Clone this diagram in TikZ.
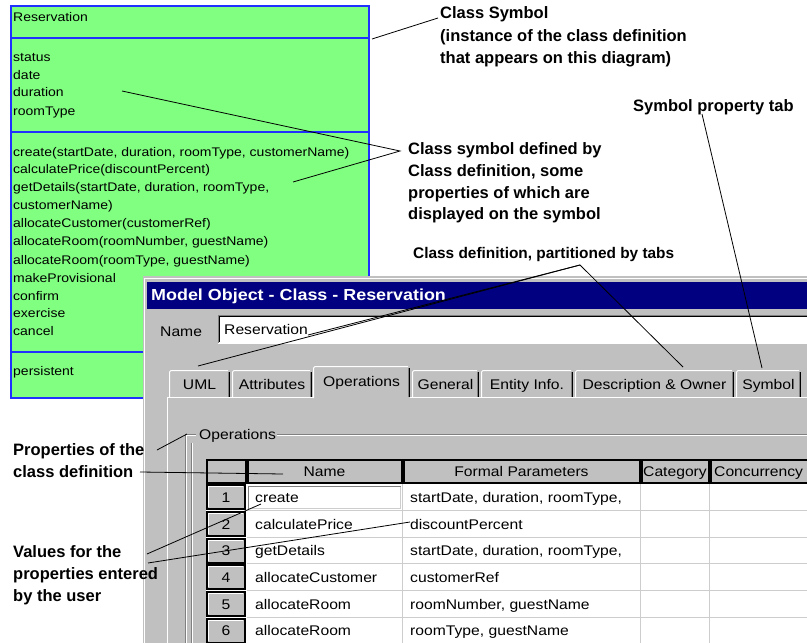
\documentclass[tikz,border=0pt]{standalone}
\usepackage{fontspec}
\setmainfont{Liberation Sans}
\newfontfamily\uifont[FakeStretch=1.12]{Liberation Sans}
\definecolor{symgreen}{RGB}{128,255,128}
\definecolor{symblue}{RGB}{32,48,255}
\definecolor{winnavy}{RGB}{0,0,128}
\definecolor{wingray}{RGB}{192,192,192}
\definecolor{windark}{RGB}{128,128,128}
\definecolor{gridgray}{RGB}{205,205,205}
\begin{document}
\begin{tikzpicture}[x=1pt,y=-1pt,
  gtxt/.style={anchor=west,inner sep=0pt,text height=9pt,text depth=0pt,font=\uifont\fontsize{12.5}{14}\selectfont},
  utxt/.style={inner sep=0pt,text height=10pt,text depth=0pt,font=\uifont\fontsize{14}{16}\selectfont},
  ann/.style={anchor=west,inner sep=0pt,text height=11.8pt,text depth=0pt,font=\bfseries\fontsize{16.5}{19}\selectfont},
  lead/.style={line width=0.8pt,black},
  symline/.style={symblue,line width=1.3pt},
  hdrcell/.style={draw=black,line width=2pt,fill=wingray},
]
\useasboundingbox (0,0) rectangle (807,643);
\fill[white] (0,0) rectangle (807,643);
\begin{scope}
\clip (0,0) rectangle (807,643);
% ---------------- class symbol ----------------
\fill[symgreen] (11,6) rectangle (369,398);
\draw[symline] (11,6) rectangle (369,398);
\draw[symline] (11,38) -- (369,38);
\draw[symline] (11,132) -- (369,132);
\draw[symline] (11,352) -- (369,352);
\node[gtxt] (sname) at (13,16.7) {Reservation};
\node[gtxt] (sa1) at (13,57) {status};
\node[gtxt] (sa2) at (13,74.5) {date};
\node[gtxt] (sa3) at (13,92) {duration};
\node[gtxt] (sa4) at (13,110.5) {roomType};
\node[gtxt] (so1) at (13,151.5) {create(startDate, duration, roomType, customerName)};
\node[gtxt] (so2) at (13,169) {calculatePrice(discountPercent)};
\node[gtxt] (so3) at (13,187) {getDetails(startDate, duration, roomType,};
\node[gtxt] (so4) at (13,205) {customerName)};
\node[gtxt] (so5) at (13,223) {allocateCustomer(customerRef)};
\node[gtxt] (so6) at (13,241) {allocateRoom(roomNumber, guestName)};
\node[gtxt] (so7) at (13,259.5) {allocateRoom(roomType, guestName)};
\node[gtxt] (so8) at (13,277.5) {makeProvisional};
\node[gtxt] (so9) at (13,295.5) {confirm};
\node[gtxt] (so10) at (13,313) {exercise};
\node[gtxt] (so11) at (13,331) {cancel};
\node[gtxt] (sp1) at (13,371) {persistent};
% ---------------- dialog window ----------------
\fill[wingray] (143,276) rectangle (812,650);
\draw[white,line width=1pt] (144.5,650) -- (144.5,278.5) -- (812,278.5);
\fill[winnavy] (147,282) rectangle (812,309);
\node[anchor=west,inner sep=0pt,text height=11.5pt,text depth=0pt,text=white,font=\uifont\bfseries\fontsize{16}{19}\selectfont] (title) at (151,294.5) {Model Object - Class - Reservation};
\node[utxt,anchor=west] (namelbl) at (160,331.5) {Name};
\fill[white] (219,316) rectangle (812,343);
\draw[windark,line width=1pt] (218.5,343) -- (218.5,315.5) -- (812,315.5);
\draw[black,line width=1pt] (219.5,342) -- (219.5,316.5) -- (812,316.5);
\draw[white,line width=1pt] (218,343.5) -- (812,343.5);
\node[utxt,anchor=west] (namefield) at (224,329.5) {Reservation};
% tabs
\foreach \l/\r/\t/\n in {169/230/UML/tabuml, 232/312/Attributes/tabatt, 412/479/General/tabgen, 481/573/Entity Info./tabent, 575/734/Description \& Owner/tabdesc, 736/801/Symbol/tabsym}{
  \fill[wingray] (\l,370) rectangle (\r,397);
  \draw[white,line width=1pt] ({\l+0.5},397) -- ({\l+0.5},372) -- ({\l+2},370.5) -- ({\r-2},370.5);
  \draw[black,line width=1pt] ({\r-0.5},372) -- ({\r-0.5},397);
  \draw[windark,line width=1pt] ({\r-1.5},372) -- ({\r-1.5},397);
  \node[utxt] (\n) at ({(\l+\r)/2},384.5) {\t};
}
% panel
\draw[white,line width=1pt] (167.5,650) -- (167.5,397.5) -- (313,397.5);
\draw[white,line width=1pt] (410,397.5) -- (812,397.5);
% selected tab
\fill[wingray] (313,366) rectangle (410,399);
\draw[white,line width=1pt] (313.5,398) -- (313.5,368) -- (315,366.5) -- (408,366.5);
\draw[black,line width=1pt] (409.5,368) -- (409.5,397);
\draw[windark,line width=1pt] (408.5,368) -- (408.5,397);
\node[utxt] (tabops) at (361.5,381) {Operations};
% group box
\draw[windark,line width=1pt] (185.5,650) -- (185.5,434.5) -- (196,434.5);
\draw[white,line width=1pt] (186.5,650) -- (186.5,435.5) -- (196,435.5);
\draw[windark,line width=1pt] (277,434.5) -- (812,434.5);
\draw[white,line width=1pt] (277,435.5) -- (812,435.5);
\draw[windark,line width=1pt] (191.5,650) -- (191.5,443);
\draw[white,line width=1pt] (192.5,650) -- (192.5,443);
\node[utxt,anchor=west] (grplbl) at (199,434.5) {Operations};
% ---------------- table ----------------
\fill[white] (206,459) rectangle (812,650);
\foreach \y in {510,537,563.5,590,617,643.5}{
  \draw[gridgray,line width=1pt] (247,\y) -- (812,\y);
}
\foreach \x in {402.5,640.5,709.5}{
  \draw[gridgray,line width=1pt] (\x,483) -- (\x,650);
}
\node[hdrcell,minimum width=39pt,minimum height=23pt,inner sep=0pt] (hcorner) at (226,471) {};
\node[hdrcell,minimum width=154pt,minimum height=23pt,inner sep=0pt] (hname) at (324.5,471) {};
\node[hdrcell,minimum width=236pt,minimum height=23pt,inner sep=0pt] (hpar) at (521.5,471) {};
\node[hdrcell,minimum width=67pt,minimum height=23pt,inner sep=0pt] (hcat) at (675,471) {};
\node[hdrcell,minimum width=110pt,minimum height=23pt,inner sep=0pt] (hcon) at (766,471) {};
\node[utxt] (tname) at (324.5,471.5) {Name};
\node[utxt] (tpar) at (521.5,471.5) {Formal Parameters};
\node[utxt] (tcat) at (675,471.5) {Category};
\node[utxt,anchor=west] (tcon) at (714,471.5) {Concurrency};
% row 1 name edit cell
\draw[windark,line width=1pt] (248.5,509) -- (248.5,486.5) -- (401,486.5);
\draw[gridgray,line width=1pt] (249,508.5) -- (400.5,508.5) -- (400.5,487);
\foreach \k/\cy/\nm/\pr in {1/497/create/{startDate, duration, roomType,},
  2/524/calculatePrice/discountPercent,
  3/550.5/getDetails/{startDate, duration, roomType,},
  4/577/allocateCustomer/customerRef,
  5/604/allocateRoom/{roomNumber, guestName},
  6/630.5/allocateRoom/{roomType, guestName}}{
  \node[hdrcell,minimum width=38pt,minimum height=24pt,inner sep=0pt] (rh\k) at (226,\cy) {};
  \draw[white,line width=1pt] (208.5,{\cy+10}) -- (208.5,{\cy-10.5}) -- (243,{\cy-10.5});
  \node[utxt] (rn\k) at (226,\cy) {\k};
  \node[utxt,anchor=west] (nm\k) at (255,\cy) {\nm};
  \node[utxt,anchor=west] (pr\k) at (410,\cy) {\pr};
}
\end{scope}
% ---------------- annotations ----------------
\node[ann] (aclass1) at (440,13) {Class Symbol};
\node[ann] (aclass2) at (440,36) {(instance of the class definition};
\node[ann] (aclass3) at (440,58) {that appears on this diagram)};
\node[ann] (asymtab) at (633,106) {Symbol property tab};
\node[ann] (adef1) at (408,149) {Class symbol defined by};
\node[ann] (adef2) at (408,171) {Class definition, some};
\node[ann] (adef3) at (408,193) {properties of which are};
\node[ann] (adef4) at (408,214) {displayed on the symbol};
\node[ann,font=\bfseries\fontsize{15.4}{18}\selectfont] (atabs) at (413,253) {Class definition, partitioned by tabs};
\node[ann] (aprop1) at (13,450) {Properties of the};
\node[ann] (aprop2) at (13,472) {class definition};
\node[ann] (aval1) at (13,552) {Values for the};
\node[ann] (aval2) at (13,574) {properties entered};
\node[ann] (aval3) at (13,596) {by the user};
% leader end points
\coordinate (l1a) at (372,39);
\coordinate (l1b) at (438,18);
\coordinate (l2a) at (122,91);
\coordinate (l2b) at (293,182);
\coordinate (l2c) at (400,151);
\coordinate (l3a) at (702,114);
\coordinate (l3b) at (762,368);
\coordinate (apex) at (580,265);
\coordinate (l4a) at (198,366);
\coordinate (l4b) at (308,335);
\coordinate (l4c) at (683,367);
\coordinate (l5a) at (157,450);
\coordinate (l5b) at (187,434);
\coordinate (l5c) at (140,472);
\coordinate (l5d) at (283,474);
\coordinate (l6a) at (147,554);
\coordinate (l6b) at (261,504);
\coordinate (l6c) at (148,563);
\coordinate (l6d) at (410,522);
\draw[lead] (l1a) -- (l1b);
\draw[lead] (l2a) -- (l2c) -- (l2b);
\draw[lead] (l3a) -- (l3b);
\draw[lead] (l4a) -- (apex) -- (l4c);
\draw[lead] (l4b) -- (apex);
\draw[lead] (l5a) -- (l5b);
\draw[lead] (l5c) -- (l5d);
\draw[lead] (l6a) -- (l6b);
\draw[lead] (l6c) -- (l6d);
\end{tikzpicture}
\end{document}
